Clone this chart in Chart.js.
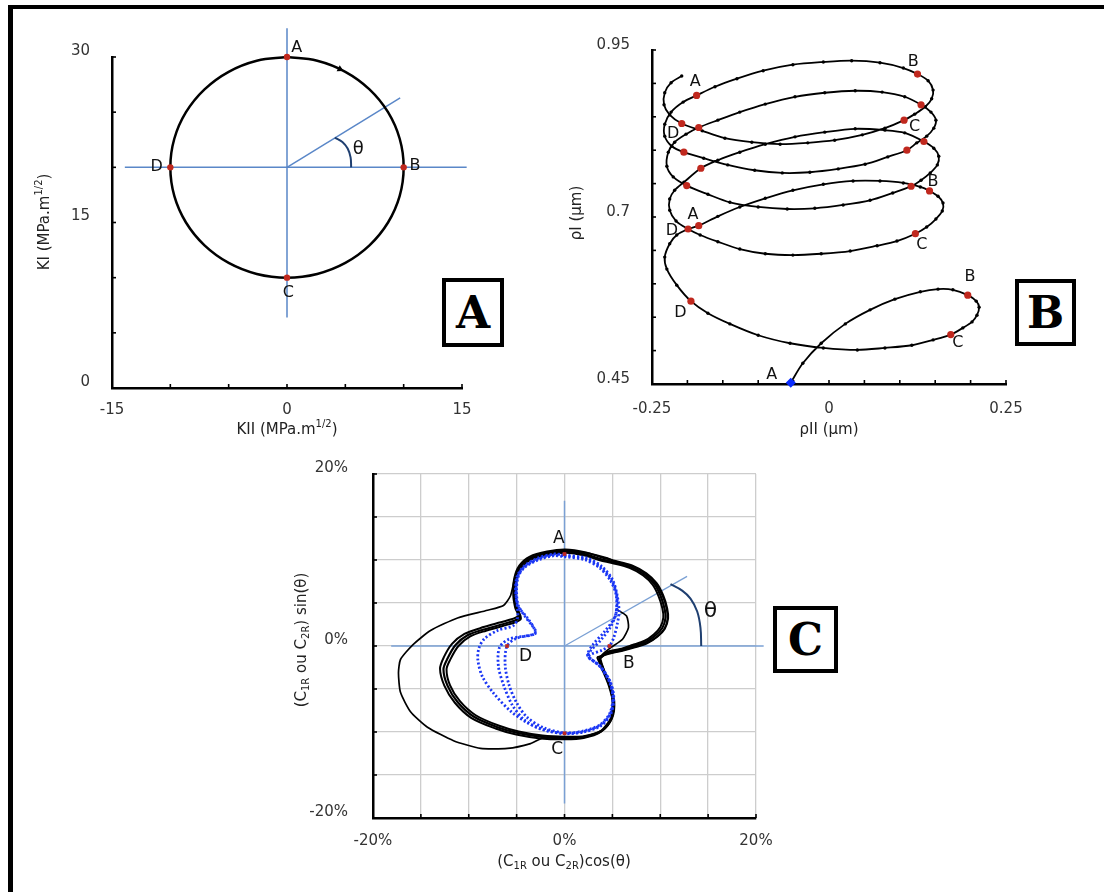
<!DOCTYPE html>
<html><head><meta charset="utf-8">
<script src="https://cdn.jsdelivr.net/npm/chart.js@4/dist/chart.umd.min.js"></script>
<style>
html,body{margin:0;padding:0;background:#fff;}
#fig{position:relative;width:1104px;height:892px;overflow:hidden;background:#fff;}
canvas{position:absolute;}
.frameL{position:absolute;left:8px;top:5px;width:5px;height:887px;background:#000;z-index:5;}
.frameT{position:absolute;left:8px;top:5px;width:1096px;height:4px;background:#000;z-index:5;}
.box{position:absolute;border:4px solid #000;box-sizing:border-box;font-family:"DejaVu Serif",serif;font-weight:bold;font-size:44px;line-height:1;display:flex;align-items:center;justify-content:center;background:#fff;z-index:5;color:#000;}
</style></head>
<body>
<div id="fig">
<canvas id="cA" width="540" height="440" style="left:0;top:0"></canvas>
<canvas id="cB" width="544" height="440" style="left:560px;top:0"></canvas>
<canvas id="cC" width="520" height="452" style="left:280px;top:440px"></canvas>
<div class="frameL"></div><div class="frameT"></div>
<div class="box" style="left:442px;top:278px;width:62px;height:69px;">A</div>
<div class="box" style="left:1015px;top:279px;width:61px;height:67px;">B</div>
<div class="box" style="left:773px;top:606px;width:65px;height:67px;">C</div>
</div>
<script>
// ---------------- DATA ----------------
// Panel A : loading path (KII, KI)
const kiiTicks = [-15, 0, 15];
const kiTicks = [0, 15, 30];
const circlePts = [[0,30],[2.59,29.66],[5,28.66],[7.07,27.07],[8.66,25],[9.66,22.59],[10,20],[9.66,17.41],[8.66,15],[7.07,12.93],[5,11.34],[2.59,10.34],[0,10],[-2.59,10.34],[-5,11.34],[-7.07,12.93],[-8.66,15],[-9.66,17.41],[-10,20],[-9.66,22.59],[-8.66,25],[-7.07,27.07],[-5,28.66],[-2.59,29.66],[0,30]];
const pointsA = [[0,30],[10,20],[0,10],[-10,20]];
const arrowA = [[4.54,28.9]];
const axisVA = [[0,32.6],[0,6.4]];
const axisHA = [[-13.9,20],[15.4,20]];
const rayA = [[0,20],[9.7,26.3]];
const arcA = [[5.5,20],[5.45,20.9],[5.2,21.7],[4.75,22.3],[4.1,22.7]];
const labelsA = [["A",0.83,30.85],["B",10.97,20.15],["C",0.11,8.59],["D",-11.17,20.06]];

// Panel B : crack tip path (rhoII, rhoI)
const rhoIITicks = [-0.25, 0, 0.25];
const rhoITicks = [0.45, 0.7, 0.95];
const spiral = [
[-0.054,0.452],[-0.037,0.481],[-0.011,0.511],[0.023,0.540],[0.058,0.561],[0.093,0.577],[0.129,0.588],[0.154,0.592],[0.175,0.591],[0.196,0.583],[0.208,0.574],[0.212,0.565],[0.209,0.553],[0.202,0.543],[0.189,0.534],[0.172,0.524],[0.147,0.516],[0.117,0.508],[0.079,0.504],[0.040,0.501],[-0.008,0.504],[-0.055,0.511],[-0.100,0.523],[-0.140,0.540],[-0.171,0.556],[-0.195,0.574],[-0.215,0.598],[-0.229,0.622],[-0.232,0.640],[-0.225,0.660],[-0.215,0.673],[-0.199,0.682],[-0.184,0.687],
[-0.157,0.701],[-0.126,0.715],[-0.090,0.728],[-0.051,0.740],[-0.008,0.749],[0.034,0.754],[0.072,0.754],[0.105,0.751],[0.129,0.745],[0.142,0.739],[0.154,0.731],[0.161,0.721],[0.160,0.709],[0.151,0.697],[0.138,0.685],[0.122,0.675],[0.096,0.664],[0.068,0.657],[0.030,0.649],[-0.011,0.645],[-0.051,0.643],[-0.090,0.645],[-0.126,0.652],[-0.157,0.663],[-0.182,0.673],[-0.199,0.682],[-0.216,0.694],[-0.225,0.710],[-0.225,0.727],[-0.218,0.740],[-0.205,0.752],[-0.181,0.773],
[-0.157,0.785],[-0.126,0.797],[-0.090,0.809],[-0.048,0.820],[-0.006,0.827],[0.037,0.832],[0.079,0.830],[0.107,0.826],[0.134,0.813],[0.148,0.803],[0.155,0.791],[0.153,0.778],[0.143,0.766],[0.130,0.755],[0.116,0.746],[0.090,0.736],[0.058,0.725],[0.020,0.718],[-0.020,0.713],[-0.059,0.712],[-0.100,0.715],[-0.140,0.722],[-0.171,0.734],[-0.201,0.747],[-0.220,0.760],[-0.229,0.776],[-0.227,0.797],[-0.218,0.812],[-0.202,0.824],[-0.184,0.834],
[-0.157,0.845],[-0.126,0.857],[-0.090,0.869],[-0.048,0.880],[-0.006,0.886],[0.037,0.889],[0.075,0.887],[0.107,0.880],[0.130,0.868],[0.144,0.857],[0.151,0.845],[0.148,0.833],[0.138,0.821],[0.124,0.811],[0.110,0.800],[0.083,0.790],[0.051,0.779],[0.013,0.772],[-0.027,0.767],[-0.066,0.766],[-0.105,0.770],[-0.143,0.778],[-0.177,0.788],[-0.205,0.797],[-0.222,0.806],[-0.232,0.821],[-0.232,0.839],[-0.223,0.857],[-0.206,0.872],[-0.187,0.882],
[-0.161,0.895],[-0.130,0.907],[-0.093,0.919],[-0.051,0.928],[-0.008,0.932],[0.032,0.934],[0.072,0.931],[0.105,0.923],[0.125,0.914],[0.140,0.904],[0.147,0.890],[0.145,0.877],[0.136,0.865],[0.121,0.854],[0.106,0.845],[0.079,0.833],[0.047,0.823],[0.008,0.815],[-0.030,0.811],[-0.069,0.809],[-0.109,0.812],[-0.147,0.818],[-0.179,0.829],[-0.208,0.840],[-0.225,0.853],[-0.233,0.868],[-0.232,0.886],[-0.223,0.901],[-0.208,0.911]
];
const redB = [[-0.184,0.687],[-0.181,0.773],[-0.184,0.834],[-0.187,0.882],
  [-0.195,0.574],[-0.199,0.682],[-0.201,0.747],[-0.205,0.797],[-0.208,0.840],
  [0.196,0.583],[0.142,0.739],[0.134,0.813],[0.130,0.868],[0.125,0.914],
  [0.172,0.524],[0.122,0.675],[0.116,0.746],[0.110,0.800],[0.106,0.845]];
const startB = [[-0.054,0.452]];
const labelsB = [["A",-0.189,0.903],["B",0.119,0.932],["C",0.121,0.835],["D",-0.220,0.824],["B",0.147,0.753],["A",-0.192,0.703],["D",-0.222,0.679],["C",0.131,0.659],["B",0.199,0.610],["D",-0.210,0.556],["C",0.182,0.511],["A",-0.081,0.463]];

// Panel C : polar plots of C1R / C2R (%)
const cTicks = [-20, 0, 20];
const thinLoop = [[5.43,4.27],[6.48,3.48],[6.68,2.13],[6.06,0.79],[4.80,-0.22],[3.76,-1.24],[4.07,-2.58],[4.70,-4.61],[5.01,-6.52],[4.80,-8.43],[3.76,-9.89],[1.98,-10.56],[0.10,-10.79],[-2.19,-10.67],[-3.55,-11.35],[-5.95,-11.91],[-8.77,-11.91],[-11.59,-11.01],[-14.31,-9.44],[-16.08,-7.64],[-17.13,-5.39],[-17.34,-3.15],[-17.13,-1.57],[-15.87,0.11],[-13.99,1.80],[-11.17,3.26],[-8.04,4.16],[-6.37,4.72],[-5.64,5.84],[-5.22,7.75],[-4.60,9.33],[-3.34,10.34],[-1.78,10.90],[0.10,11.12],[2.40,10.79],[4.49,10.22],[5.12,9.89],[7.00,9.33],[8.46,8.43],[9.50,7.30],[10.23,5.84],[10.65,4.38],[10.76,3.15],[10.44,2.02],[9.71,1.12],[8.56,0.34],[7.31,-0.11],[5.85,-0.56],[4.49,-0.90],[3.66,-1.46]];
const thickLoop1 = [[3.55,-1.46],[4.07,-2.81],[4.70,-4.61],[5.12,-6.52],[4.91,-8.43],[3.86,-9.89],[2.09,-10.56],[0.10,-10.67],[-2.40,-10.56],[-4.91,-10.11],[-7.00,-9.44],[-9.50,-8.20],[-11.17,-6.52],[-12.22,-4.61],[-12.64,-2.70],[-12.22,-1.46],[-11.38,0.11],[-10.13,1.24],[-8.46,1.91],[-6.68,2.47],[-4.70,3.26],[-5.01,4.38],[-5.22,5.84],[-5.12,7.75],[-4.60,9.21],[-3.55,10.22],[-1.78,10.79],[0.10,11.01],[2.19,10.67],[3.76,10.11],[5.01,9.78],[6.89,9.21],[8.36,8.31],[9.40,7.19],[10.03,5.84],[10.44,4.38],[10.55,3.26],[10.23,2.13],[9.50,1.24],[8.46,0.45],[7.21,0.00],[5.85,-0.45],[4.49,-0.79],[3.55,-1.46]];
const thickLoop2 = [[3.40,-1.30],[3.95,-2.75],[4.62,-4.60],[5.05,-6.55],[4.85,-8.50],[3.78,-10.00],[2.00,-10.70],[0.05,-10.85],[-2.50,-10.75],[-5.05,-10.30],[-7.20,-9.60],[-9.75,-8.35],[-11.45,-6.60],[-12.55,-4.60],[-13.00,-2.65],[-12.60,-1.30],[-11.75,0.25],[-10.45,1.40],[-8.75,2.10],[-6.90,2.70],[-4.85,3.45],[-5.15,4.45],[-5.35,5.90],[-5.25,7.85],[-4.72,9.35],[-3.62,10.40],[-1.82,10.98],[0.08,11.22],[2.25,10.88],[3.85,10.32],[5.10,9.95],[7.05,9.38],[8.55,8.45],[9.62,7.30],[10.30,5.90],[10.72,4.40],[10.82,3.20],[10.48,2.02],[9.72,1.10],[8.62,0.30],[7.35,-0.15],[5.95,-0.58],[4.55,-0.92],[3.40,-1.30]];
const thickLoop3 = [[3.65,-1.55],[4.15,-2.90],[4.78,-4.65],[5.20,-6.50],[4.98,-8.35],[3.92,-9.80],[2.15,-10.45],[0.12,-10.55],[-2.30,-10.42],[-4.78,-9.95],[-6.82,-9.28],[-9.28,-8.05],[-10.92,-6.42],[-11.95,-4.58],[-12.32,-2.72],[-11.92,-1.55],[-11.08,0.00],[-9.85,1.12],[-8.20,1.78],[-6.45,2.32],[-4.58,3.10],[-4.88,4.30],[-5.10,5.80],[-5.00,7.70],[-4.50,9.10],[-3.48,10.08],[-1.75,10.62],[0.12,10.85],[2.15,10.52],[3.70,9.98],[4.95,9.65],[6.78,9.08],[8.22,8.20],[9.22,7.10],[9.82,5.80],[10.22,4.38],[10.32,3.30],[10.02,2.22],[9.32,1.35],[8.32,0.58],[7.10,0.12],[5.78,-0.35],[4.45,-0.70],[3.65,-1.55]];
const blueLoop1 = [[0.0,10.6],[2.4,10.2],[3.9,9.25],[5.0,7.75],[5.5,5.9],[5.7,4.0],[5.5,2.5],[5.15,1.0],[4.75,0.1],[3.9,-0.5],[2.8,-0.95],[2.5,-1.3],[3.76,-2.4],[4.8,-4.2],[5.15,-6.1],[4.8,-8.0],[3.76,-9.3],[2.0,-10.0],[0.1,-10.2],[-1.8,-9.85],[-3.9,-8.9],[-5.6,-7.6],[-7.4,-5.5],[-8.6,-3.5],[-9.05,-1.6],[-8.95,-0.3],[-8.4,0.8],[-7.0,1.8],[-5.3,2.4],[-4.9,3.3],[-4.94,4.75],[-5.12,6.6],[-4.94,8.1],[-4.25,9.25],[-2.85,10.2],[-1.1,10.7],[0.0,10.6]];
const blueLoop2 = [[0.0,10.5],[2.3,10.1],[3.8,9.15],[4.9,7.7],[5.45,5.9],[5.4,3.9],[4.8,2.2],[3.8,0.7],[2.7,-0.6],[2.45,-1.2],[3.7,-2.35],[4.75,-4.2],[5.1,-6.1],[4.75,-7.95],[3.7,-9.25],[1.95,-9.95],[0.05,-10.15],[-2.5,-9.66],[-4.25,-8.54],[-5.46,-6.85],[-6.34,-4.61],[-6.9,-2.36],[-6.8,-0.2],[-5.8,0.8],[-3.1,1.4],[-3.2,2.1],[-3.9,3.3],[-4.9,4.75],[-5.05,6.6],[-4.88,8.1],[-4.2,9.2],[-2.8,10.1],[-1.1,10.6],[0.0,10.5]];
const blueLoop3 = [[0.0,10.4],[2.2,10.0],[3.7,9.05],[4.8,7.6],[5.4,5.9],[5.3,3.5],[4.2,1.7],[3.0,0.2],[2.4,-0.9],[2.5,-1.25],[3.65,-2.3],[4.7,-4.2],[5.05,-6.1],[4.7,-7.9],[3.65,-9.2],[1.9,-9.9],[0.0,-10.1],[-2.2,-9.5],[-3.9,-8.3],[-5.0,-6.6],[-5.8,-4.5],[-6.2,-2.2],[-6.0,0.0],[-5.0,0.9],[-3.0,1.5],[-3.4,2.4],[-4.1,3.4],[-4.85,4.8],[-5.0,6.6],[-4.82,8.1],[-4.15,9.15],[-2.75,10.0],[-1.1,10.5],[0.0,10.4]];
const pointsC = [[0,10.7],[4.7,0],[0,-10.15],[-6.0,0]];
const axisVC = [[0,16.9],[0,-18.3]];
const axisHC = [[-18.1,0],[20.8,0]];
const rayC = [[0,0],[12.8,8.1]];
const arcC = [[14.28,0],[14.2,2.13],[13.86,4.01],[13.16,5.51],[12.29,6.44],[11.07,7.19]];
const labelsC = [["A",-0.6,12.44],["B",6.72,-1.99],["C",-0.76,-12.1],["D",-4.07,-1.24]];

// ---------------- RENDER ----------------
const FONT = '"DejaVu Sans", Verdana, sans-serif';
Chart.defaults.font.family = FONT;
Chart.defaults.color = '#222';
const RED = '#c0281e', BLUEAX = '#5a87c8', DARKARC = '#1f3f70', BLUEDOT = '#1a36f5';
const xy = a => a.map(p => ({x:p[0], y:p[1]}));
const steps = (a,b,s) => { const r=[]; for (let v=a; v<=b+1e-9; v+=s) r.push(+v.toFixed(4)); return r; };

function drawRich(ctx, segs, x, y, size, rotate) {
  ctx.save();
  ctx.translate(x, y);
  if (rotate) ctx.rotate(-Math.PI/2);
  let w = 0;
  const parts = segs.map(s => { const fs = (s.sup||s.sub) ? Math.round(size*0.68) : size; ctx.font = fs+'px '+FONT; const m = ctx.measureText(s.t).width; w += m; return {s, fs, m}; });
  let cx = -w/2;
  ctx.fillStyle = '#222'; ctx.textBaseline = 'middle'; ctx.textAlign = 'left';
  parts.forEach(p => { ctx.font = p.fs+'px '+FONT; const dy = p.s.sup ? -size*0.38 : (p.s.sub ? size*0.28 : 0); ctx.fillText(p.s.t, cx, dy); cx += p.m; });
  ctx.restore();
}

const deco = {
  id: 'deco',
  beforeDatasetsDraw(chart, args, o) {
    const ctx = chart.ctx, xs = chart.scales.x, ys = chart.scales.y, ca = chart.chartArea;
    ctx.save(); ctx.strokeStyle = '#000'; ctx.lineWidth = 1.6;
    (o.xTicks||[]).forEach(v => { const p = xs.getPixelForValue(v); ctx.beginPath(); ctx.moveTo(p, ca.bottom); ctx.lineTo(p, ca.bottom - o.tickLen); ctx.stroke(); });
    (o.yTicks||[]).forEach(v => { const p = ys.getPixelForValue(v); ctx.beginPath(); ctx.moveTo(ca.left, p); ctx.lineTo(ca.left + o.tickLen, p); ctx.stroke(); });
    ctx.restore();
  },
  afterDraw(chart, args, o) {
    const ctx = chart.ctx, xs = chart.scales.x, ys = chart.scales.y;
    ctx.save();
    ctx.fillStyle = '#111'; ctx.textAlign = 'center'; ctx.textBaseline = 'middle';
    (o.labels||[]).forEach(l => { ctx.font = (o.labelSize||15)+'px '+FONT; ctx.fillText(l[0], xs.getPixelForValue(l[1]), ys.getPixelForValue(l[2])); });
    if (o.theta) { ctx.font = o.theta[2]+'px "DejaVu Sans", sans-serif'; ctx.fillText('θ', xs.getPixelForValue(o.theta[0]), ys.getPixelForValue(o.theta[1])); }
    ctx.restore();
    (o.titles||[]).forEach(t => drawRich(ctx, t.segs, t.x, t.y, t.size, t.rot));
  }
};

function lin(min, max, labelVals, pad, fitProp, fitVal, labelOffset) {
  return {
    type: 'linear', min, max,
    afterBuildTicks: s => { s.ticks = labelVals.map(v => ({value: v})); },
    ticks: { callback: v => String(v), padding: pad, labelOffset: labelOffset || 0, autoSkip: false, maxRotation: 0, font: {size: 15, family: FONT}, color: '#333' },
    grid: { display: false, drawTicks: false },
    border: { display: true, color: '#000', width: 2.5 },
    afterFit: s => { s[fitProp] = fitVal; }
  };
}

const lineDs = (data, color, width, extra) => Object.assign({ data: xy(data), showLine: true, borderColor: color, borderWidth: width, pointRadius: 0, tension: 0, fill: false }, extra || {});
const baseOpts = (padding, deco, scales) => ({
  responsive: false, animation: false, events: [],
  layout: { padding },
  plugins: { legend: {display: false}, tooltip: {enabled: false}, deco },
  scales
});

// Panel A
new Chart(document.getElementById('cA'), {
  type: 'scatter',
  data: { datasets: [
    { data: xy(pointsA), pointRadius: 3.2, pointBackgroundColor: RED, pointBorderWidth: 0, clip: false },
    { data: xy(arrowA), pointStyle: 'triangle', rotation: 117, pointRadius: 4, pointBackgroundColor: '#000', pointBorderWidth: 0 },
    lineDs(circlePts, '#000', 2.5, { tension: 0.4, clip: false }),
    lineDs(arcA, DARKARC, 2, { tension: 0.4 }),
    lineDs(axisVA, BLUEAX, 1.5, { clip: false }),
    lineDs(axisHA, BLUEAX, 1.5, { clip: false }),
    lineDs(rayA, BLUEAX, 1.5, { clip: false })
  ]},
  options: baseOpts({left: 33, top: 57, right: 78, bottom: 0}, {
      tickLen: 4, xTicks: steps(-15, 15, 5), yTicks: steps(0, 30, 5), labels: labelsA, labelSize: 16, theta: [6.11, 21.64, 18],
      titles: [
        { segs: [{t:'KII (MPa.m'},{t:'1/2',sup:true},{t:')'}], x: 287, y: 430, size: 15 },
        { segs: [{t:'KI (MPa.m'},{t:'1/2',sup:true},{t:')'}], x: 45, y: 222, size: 15, rot: true }
      ] }, {
      x: lin(-15, 15, kiiTicks, 13, 'height', 52),
      y: lin(0, 30, kiTicks, 22, 'width', 79, -6)
  }),
  plugins: [deco]
});

// Panel B
new Chart(document.getElementById('cB'), {
  type: 'scatter',
  data: { datasets: [
    { data: xy(startB), pointStyle: 'rectRot', pointRadius: 5, pointBackgroundColor: '#0a2cff', pointBorderWidth: 0, clip: false },
    { data: xy(redB), pointRadius: 3.6, pointBackgroundColor: RED, pointBorderWidth: 0, clip: false },
    lineDs(spiral, '#000', 1.8, { tension: 0.3, pointRadius: 1.7, pointBackgroundColor: '#000', pointBorderWidth: 0, clip: false })
  ]},
  options: baseOpts({left: 0, top: 50, right: 98, bottom: 0}, {
      tickLen: 4, xTicks: steps(-0.25, 0.25, 0.05), yTicks: steps(0.45, 0.95, 0.05), labels: labelsB, labelSize: 16,
      titles: [
        { segs: [{t:'ρII (µm)'}], x: 269, y: 430, size: 15 },
        { segs: [{t:'ρI (µm)'}], x: 17, y: 213, size: 15, rot: true }
      ] }, {
      x: lin(-0.25, 0.25, rhoIITicks, 16, 'height', 56),
      y: lin(0.45, 0.95, rhoITicks, 22, 'width', 92, -5)
  }),
  plugins: [deco]
});

// Panel C
const pct = v => (cTicks.includes(v) ? v + '%' : '');
const cScale = (fitProp, fitVal, pad, labelOffset) => ({
  type: 'linear', min: -20, max: 20,
  ticks: { stepSize: 5, callback: pct, padding: pad, labelOffset, autoSkip: false, maxRotation: 0, font: {size: 15, family: FONT}, color: '#333' },
  grid: { display: true, drawTicks: false, color: '#cdcdcd', lineWidth: 1.3 },
  border: { display: true, color: '#000', width: 2.5 },
  afterFit: s => { s[fitProp] = fitVal; }
});
const blueDot = d => lineDs(d, BLUEDOT, 2.8, { tension: 0.3, borderDash: [2, 2.2] });
new Chart(document.getElementById('cC'), {
  type: 'scatter',
  data: { datasets: [
    { data: xy(pointsC), pointStyle: 'rect', pointRadius: 2.6, pointBackgroundColor: RED, pointBorderWidth: 0 },
    blueDot(blueLoop1), blueDot(blueLoop2), blueDot(blueLoop3),
    lineDs(thickLoop1, '#000', 2.2, { tension: 0.3 }),
    lineDs(thickLoop2, '#000', 2, { tension: 0.3 }),
    lineDs(thickLoop3, '#000', 2, { tension: 0.3 }),
    lineDs(thinLoop, '#000', 1.7, { tension: 0.2 }),
    lineDs(arcC, DARKARC, 2, { tension: 0.4 }),
    lineDs(rayC, '#7aa0d4', 1.3),
    lineDs(axisVC, '#7aa0d4', 1.5, { clip: false }),
    lineDs(axisHC, '#7aa0d4', 1.5, { clip: false })
  ]},
  options: baseOpts({left: 0, top: 22, right: 44, bottom: 0}, {
      tickLen: 4, xTicks: steps(-20, 20, 5), yTicks: steps(-20, 20, 5), labels: labelsC, labelSize: 17, theta: [15.25, 4.01, 22],
      titles: [
        { segs: [{t:'(C'},{t:'1R',sub:true},{t:' ou C'},{t:'2R',sub:true},{t:')cos(θ)'}], x: 284, y: 422, size: 15 },
        { segs: [{t:'(C'},{t:'1R',sub:true},{t:' ou C'},{t:'2R',sub:true},{t:') sin(θ)'}], x: 22, y: 200, size: 15, rot: true }
      ] }, {
      x: cScale('height', 74, 14, 0),
      y: cScale('width', 93, 25, -6)
  }),
  plugins: [deco]
});
</script>
</body></html>
